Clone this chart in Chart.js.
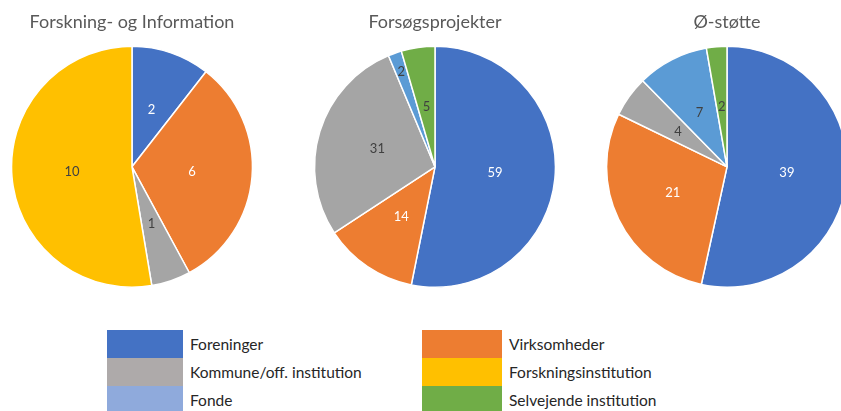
<!DOCTYPE html>
<html>
<head>
<meta charset="utf-8">
<script src="https://cdn.jsdelivr.net/npm/chart.js@4"></script>
<style>
  body { margin: 0; width: 841px; height: 411px; overflow: hidden; background: #fff; position: relative; font-family: Lato, "Open Sans", sans-serif; }
  .pie { position: absolute; top: 0; width: 280px; height: 290px; }
  .leg { position: absolute; display: flex; align-items: center; height: 28px; }
  .leg span.sw { display: block; width: 76px; height: 28px; }
  .leg span.tx { margin-left: 7px; font-size: 15.5px; color: #262626; white-space: nowrap; }
</style>
</head>
<body>
<div class="pie" style="left:-8px"><canvas id="c1"></canvas></div>
<div class="pie" style="left:295px"><canvas id="c2"></canvas></div>
<div class="pie" style="left:587px"><canvas id="c3"></canvas></div>
<div id="legend"></div>
<script>
const categories = ['Foreninger', 'Virksomheder', 'Kommune/off. institution', 'Forskningsinstitution', 'Fonde', 'Selvejende institution'];
const sliceColors = ['#4472C4', '#ED7D31', '#A5A5A5', '#FFC000', '#5B9BD5', '#70AD47'];
const legendColors = ['#4472C4', '#ED7D31', '#AEAAAA', '#FFC000', '#8FAADC', '#70AD47'];
const labelColors = ['#ffffff', '#ffffff', '#404040', '#404040', '#404040', '#404040'];

const titles = ['Forskning- og Information', 'Forsøgsprojekter', 'Ø-støtte'];
const forskningValues = [2, 6, 1, 10, 0, 0];
const forsoegValues = [59, 14, 31, 0, 2, 5];
const oStoetteValues = [39, 21, 4, 0, 7, 2];

// legend layout: left column then right column
const legendOrder = [0, 2, 4, 1, 3, 5];

const valueLabels = {
    id: 'valueLabels',
    afterDatasetsDraw(chart) {
        const ctx = chart.ctx;
        const ds = chart.data.datasets[0];
        const total = ds.data.reduce((a, b) => a + b, 0);
        chart.getDatasetMeta(0).data.forEach((arc, i) => {
            const v = ds.data[i];
            if (!v) return;
            const p = arc.getProps(['x', 'y', 'startAngle', 'endAngle', 'outerRadius']);
            const mid = (p.startAngle + p.endAngle) / 2;
            // very thin slices get their label pushed outwards, like Excel does
            const f = v / total < 0.025 ? 0.84 : 0.5;
            const x = p.x + Math.cos(mid) * p.outerRadius * f;
            const y = p.y + Math.sin(mid) * p.outerRadius * f;
            ctx.save();
            ctx.font = '13px Lato, "Open Sans", sans-serif';
            ctx.fillStyle = labelColors[i];
            ctx.textAlign = 'center';
            ctx.textBaseline = 'middle';
            ctx.fillText(String(v), x, y);
            ctx.restore();
        });
    }
};

function makePie(id, title, values) {
    new Chart(document.getElementById(id), {
        type: 'pie',
        data: {
            labels: categories,
            datasets: [{
                data: values,
                backgroundColor: sliceColors,
                borderColor: '#ffffff',
                borderWidth: 1.5
            }]
        },
        options: {
            responsive: true,
            maintainAspectRatio: false,
            animation: false,
            layout: { padding: { top: 0, bottom: 2, left: 0, right: 0 } },
            plugins: {
                legend: { display: false },
                tooltip: { enabled: false },
                title: {
                    display: true,
                    text: title,
                    color: '#595959',
                    font: { size: 18, family: 'Lato, "Open Sans", sans-serif', weight: 'normal' },
                    padding: { top: 11, bottom: 13 }
                }
            }
        },
        plugins: [valueLabels]
    });
}

makePie('c1', titles[0], forskningValues);
makePie('c2', titles[1], forsoegValues);
makePie('c3', titles[2], oStoetteValues);

const legend = document.getElementById('legend');
legendOrder.forEach((idx, k) => {
    const col = k < 3 ? 0 : 1;
    const row = k % 3;
    const el = document.createElement('div');
    el.className = 'leg';
    el.style.left = (col ? 422 : 107) + 'px';
    el.style.top = (330 + row * 28) + 'px';
    el.innerHTML = '<span class="sw" style="background:' + legendColors[idx] + (col ? ';width:80px' : '') + '"></span><span class="tx">' + categories[idx] + '</span>';
    legend.appendChild(el);
});
</script>
</body>
</html>
